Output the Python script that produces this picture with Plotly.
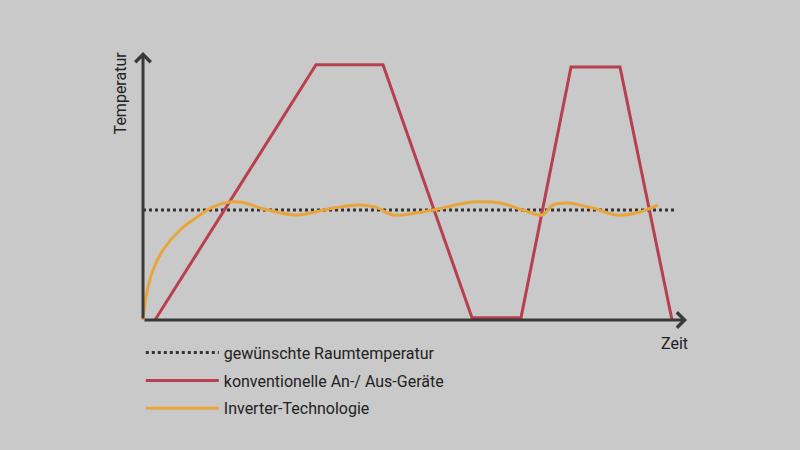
import plotly.graph_objects as go

# ---- data (time units, temperature units) ----
legend_labels = ["gewünschte Raumtemperatur", "konventionelle An-/ Aus-Geräte", "Inverter-Technologie"]

desired_t = [0, 106.4]
desired_T = [50, 50]

onoff_t = [2.4, 34.6, 48.0, 65.8, 75.6, 85.6, 95.4, 105.8]
onoff_T = [0, 116, 116, 1, 1, 115, 115, 0]

inverter_t = [0, 0.4, 1.0, 2.0, 4.0, 7.4, 10.8, 14.0, 17.4, 20.4, 23.4, 30.8, 38.0, 42.8,
              46.4, 50.0, 53.4, 58.0, 66.0, 71.4, 76.0, 79.8, 82.0, 84.8, 90.0, 94.8,
              99.4, 103.0]
inverter_T = [0, 7.7, 15.0, 22.7, 31.8, 40.9, 46.8, 51.4, 53.6, 53.2, 50.9, 47.7, 50.9, 52.3,
              51.4, 47.7, 48.2, 50.0, 53.6, 53.2, 50.0, 47.7, 52.3, 53.2, 50.9, 47.7,
              49.1, 52.3]

x_axis_end = 108.8
y_axis_end = 121.8
x_label = "Zeit"
y_label = "Temperatur"

BG = "#c9c9c9"
AXIS = "#3b3838"
RED = "#b8404e"
ORANGE = "#e9a53a"
TEXT = "#222222"
FONT = "Roboto"

fig = go.Figure()

fig.add_trace(go.Scatter(x=desired_t, y=desired_T, mode="lines", name=legend_labels[0],
                         legendgroup="a",
                         line=dict(color="#333333", width=3, dash="3px,3px")))
fig.add_trace(go.Scatter(x=onoff_t, y=onoff_T, mode="lines", name=legend_labels[1],
                         legendgroup="b",
                         line=dict(color=RED, width=3)))
fig.add_trace(go.Scatter(x=inverter_t, y=inverter_T, mode="lines", name=legend_labels[2],
                         legendgroup="c",
                         line=dict(color=ORANGE, width=3, shape="spline", smoothing=0.9)))

# axes as arrows
fig.add_annotation(x=x_axis_end, y=0, ax=0, ay=0, xref="x", yref="y", axref="x", ayref="y",
                   text="", showarrow=True, arrowhead=4, arrowsize=1, arrowwidth=3,
                   arrowcolor=AXIS, standoff=0, startstandoff=0)
fig.add_annotation(x=0, y=y_axis_end, ax=0, ay=0, xref="x", yref="y", axref="x", ayref="y",
                   text="", showarrow=True, arrowhead=4, arrowsize=1, arrowwidth=3,
                   arrowcolor=AXIS, standoff=0, startstandoff=0)

fig.add_annotation(x=106.2, y=-10.5, xref="x", yref="y", text=x_label, showarrow=False,
                   font=dict(family=FONT, size=16, color=TEXT))
fig.add_annotation(x=-4.6, y=103, xref="x", yref="y", text=y_label, showarrow=False,
                   textangle=-90, font=dict(family=FONT, size=16, color=TEXT))

fig.update_xaxes(range=[-28.6, 131.4], visible=False, fixedrange=True)
fig.update_yaxes(range=[-59.09, 145.45], visible=False, fixedrange=True)

fig.update_layout(
    width=800, height=450,
    margin=dict(l=0, r=0, t=0, b=0),
    paper_bgcolor=BG, plot_bgcolor=BG,
    showlegend=True,
    legend=dict(x=0.176, y=0.254, xanchor="left", yanchor="top",
                bgcolor="rgba(0,0,0,0)", itemwidth=73, tracegroupgap=4,
                font=dict(family=FONT, size=16, color=TEXT)),
)

fig.write_html("out.html", config={"displayModeBar": False},
               post_script="document.body.style.margin='0';")
